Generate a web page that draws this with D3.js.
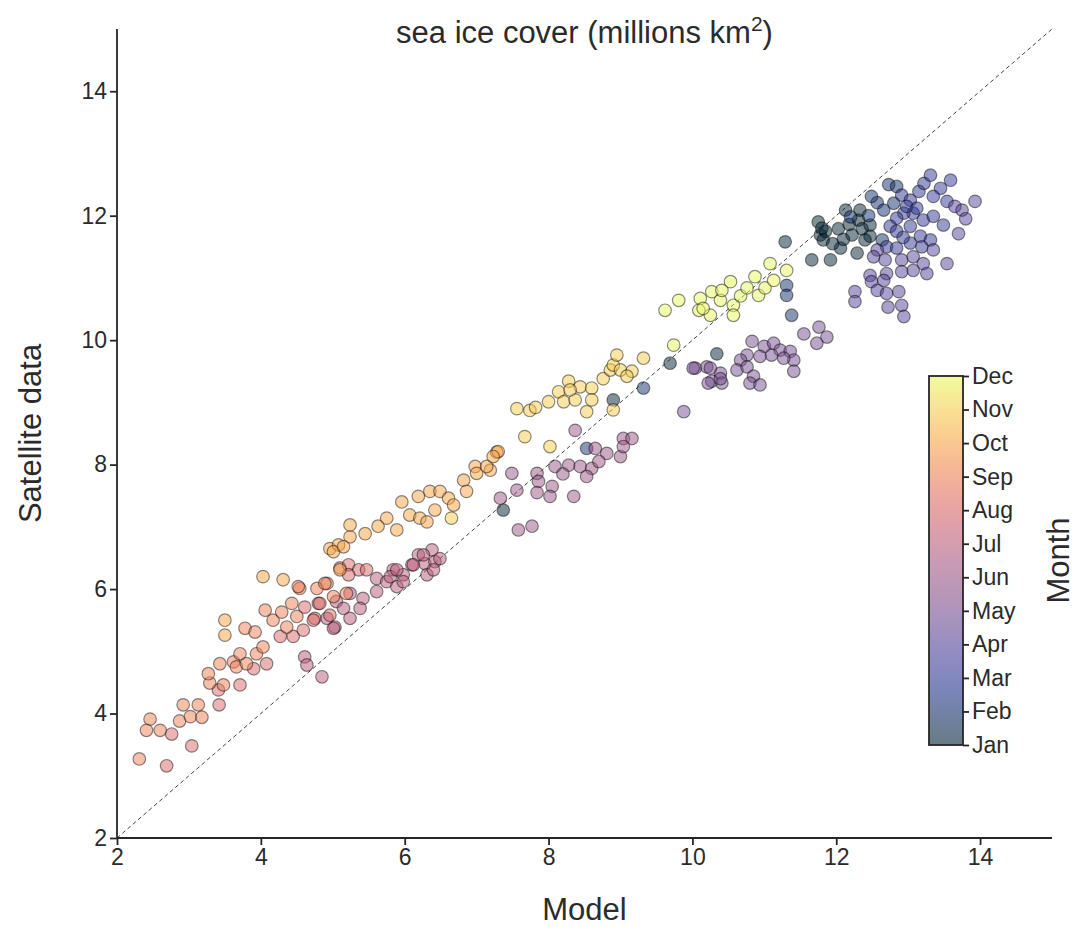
<!DOCTYPE html>
<html>
<head>
<meta charset="utf-8">
<script src="https://cdn.jsdelivr.net/npm/d3@7"></script>
<style>
  body { margin: 0; background: #fff; }
  text { font-family: "Liberation Sans", Arial, sans-serif; fill: #2b2b2b; }
</style>
</head>
<body>
<div id="chart"></div>
<script>
// month labels for the colorbar
var monthNames = ["Jan","Feb","Mar","Apr","May","Jun","Jul","Aug","Sep","Oct","Nov","Dec"];
var xTicks = [2, 4, 6, 8, 10, 12, 14];
var yTicks = [2, 4, 6, 8, 10, 12, 14];

// [model, satellite] per month
var jan = [[7.37,7.27],[8.90,9.04],[9.69,9.63],[10.34,9.78],[11.29,11.58],
  [11.75,11.90],[11.78,11.69],[11.82,11.61],[11.66,11.29],[11.92,11.29],[12.03,11.79],
  [12.06,11.48],[12.13,12.09],[12.22,11.69],[12.31,11.93],[12.33,12.09],[12.36,11.79],
  [12.47,11.85],[12.29,11.40],[12.47,11.67],[12.40,11.61],[11.85,11.75],[11.95,11.55],
  [11.80,11.80],[12.18,11.86],[12.10,11.62]];
var feb = [[8.53,8.26],[9.32,9.23],[11.31,10.88],[11.31,10.72],[11.38,10.40],[12.57,12.21],
  [12.73,12.50],[12.84,12.47],[12.49,12.31],[12.66,12.09],[12.64,11.61],[12.80,12.20],
  [12.20,11.98],[12.45,12.00]];
var mar = [[12.91,12.33],[13.03,12.25],[13.15,12.39],[13.22,12.52],[13.31,12.65],[13.45,12.44],
  [13.35,12.31],[13.54,12.23],[13.07,12.04],[12.94,12.04],[12.84,11.96],[12.75,11.83],
  [13.03,11.83],[13.21,11.93],[13.35,11.99],[13.49,11.85],[12.84,11.75],[13.17,11.67],
  [13.31,11.61],[12.70,11.50],[12.84,11.48],[13.03,11.56],[13.19,11.50],[13.59,12.57],
  [12.98,12.15],[13.12,12.12],[12.93,11.65]];
var apr = [[13.65,12.15],[13.75,12.09],[13.93,12.23],[13.70,11.71],[13.35,11.45],[12.57,11.45],
  [12.52,11.34],[12.68,11.29],[12.91,11.29],[13.07,11.34],[13.21,11.23],[13.26,11.07],
  [13.54,11.23],[13.07,11.12],[12.91,11.10],[12.70,11.07],[12.47,11.04],[12.49,10.94],
  [12.66,10.96],[12.57,10.80],[12.70,10.75],[12.87,10.78],[12.91,10.56],[12.94,10.38],
  [12.26,10.78],[12.26,10.62],[12.72,10.53],[13.80,11.95]];
var may = [[11.55,10.10],[11.76,10.21],[11.87,10.05],[11.73,9.95],[10.83,9.98],[11.00,9.90],
  [11.13,9.95],[11.22,9.84],[11.36,9.82],[11.41,9.68],[11.41,9.50],[11.27,9.71],[11.10,9.76],
  [10.94,9.74],[10.76,9.76],[10.67,9.68],[10.62,9.52],[10.76,9.57],[10.85,9.42],[10.80,9.31],
  [10.94,9.28],[10.39,9.47],[10.20,9.57],[10.04,9.55],[10.27,9.34],[10.41,9.31],[9.88,8.85],
  [10.01,9.55],[10.25,9.55],[10.22,9.31],[10.39,9.38]];
var jun = [[8.37,8.55],[8.65,8.26],[8.81,8.18],[9.00,8.13],[9.04,8.42],[9.16,8.42],[9.04,8.29],
  [8.09,7.97],[8.28,7.99],[8.44,7.97],[8.60,7.94],[8.53,7.81],[7.84,7.86],[7.86,7.73],
  [8.05,7.65],[8.02,7.49],[7.84,7.55],[8.35,7.49],[7.49,7.86],[7.56,7.59],[7.33,7.46],
  [7.58,6.95],[7.77,7.01],[8.20,7.85],[8.70,8.05]];
var jul = [[4.61,4.91],[4.64,4.78],[4.85,4.59],[4.92,5.53],[5.03,5.39],[5.61,6.17],[5.75,6.12],
  [5.84,6.31],[5.98,6.23],[6.10,6.39],[6.19,6.55],[6.28,6.41],[6.31,6.23],[5.89,6.04],
  [5.61,5.96],[5.42,5.85],[5.24,5.93],[5.05,5.80],[5.15,5.69],[5.38,5.69],[5.24,5.53],
  [5.01,5.37],[6.38,6.63],[6.42,6.44],[6.49,6.49],[6.40,6.31],[6.26,6.55],[6.12,6.39],
  [5.80,6.20],[5.89,6.31],[5.98,6.12]];
var aug = [[4.96,5.58],[4.75,5.53],[4.80,5.77],[4.61,5.71],[5.10,6.34],[5.22,6.39],[5.36,6.31],
  [5.47,6.31],[5.22,6.23],[4.73,5.50],[4.45,5.24],[4.27,5.24],[4.59,5.34],[4.08,4.80],
  [3.90,4.72],[3.71,4.46],[3.41,4.38],[2.69,3.16],[3.04,3.48],[2.76,3.67],[3.42,4.14],
  [4.82,5.77]];
var sep = [[2.31,3.27],[2.46,3.91],[2.41,3.73],[2.60,3.73],[2.87,3.88],[2.92,4.14],[3.13,4.14],
  [3.02,3.95],[3.18,3.94],[3.29,4.49],[3.27,4.64],[3.48,4.46],[3.43,4.80],[3.62,4.83],
  [3.71,4.96],[3.66,4.75],[3.80,4.80],[3.94,4.96],[4.03,5.07],[3.78,5.37],[3.92,5.31],
  [4.06,5.66],[4.17,5.50],[4.29,5.63],[4.36,5.39],[4.43,5.77],[4.50,5.56],[4.54,6.01],
  [4.52,6.04],[4.78,6.01],[4.92,6.09],[5.01,5.88],[5.19,5.93],[4.89,6.09]];
var oct = [[3.50,5.50],[3.50,5.26],[4.03,6.20],[4.31,6.15],[4.96,6.65],[5.08,6.71],[5.24,6.84],
  [5.24,7.03],[5.45,6.89],[5.63,7.01],[5.75,7.14],[5.89,6.95],[5.96,7.40],[6.07,7.19],
  [6.19,7.49],[6.21,7.14],[6.31,7.08],[6.35,7.57],[6.42,7.27],[6.49,7.57],[6.61,7.46],
  [6.68,7.35],[6.82,7.75],[6.86,7.57],[6.98,7.97],[7.00,7.86],[7.19,7.91],[7.28,8.20],
  [7.14,7.97],[7.30,8.21],[7.23,8.13],[5.10,6.31],[5.01,6.60],[5.15,6.68]];
var nov = [[6.65,7.14],[7.56,8.90],[7.74,8.87],[7.67,8.45],[8.02,8.29],[8.00,9.01],[8.14,9.17],
  [8.21,9.01],[8.28,9.34],[8.37,9.04],[8.44,9.25],[8.53,8.85],[8.60,9.23],[8.60,9.04],
  [8.76,9.38],[8.86,9.52],[8.90,9.60],[8.95,9.76],[9.00,9.52],[9.16,9.50],[9.09,9.42],
  [9.32,9.71],[8.90,8.88],[7.82,8.92],[8.30,9.20]];
var dec = [[9.74,9.92],[9.62,10.48],[9.81,10.64],[10.11,10.67],[10.09,10.48],[10.25,10.40],
  [10.27,10.78],[10.39,10.64],[10.41,10.80],[10.53,10.94],[10.57,10.56],[10.57,10.40],
  [10.67,10.71],[10.76,10.84],[10.87,11.02],[10.92,10.72],[11.01,10.84],[11.08,11.23],
  [11.13,10.96],[11.31,11.12],[10.15,10.51]];

var byMonth = [jan, feb, mar, apr, may, jun, jul, aug, sep, oct, nov, dec];

// cmocean "thermal"-like ramp
var thermalStops = ["#042333","#0f2e68","#2b3595","#4a3f9c","#6b4a90","#8a5288",
                    "#a85883","#c65f73","#e06b62","#f08650","#f9a944","#f6d04d","#e8fa5b"];
var thermal = d3.scaleLinear()
  .domain(thermalStops.map((d, i) => i / (thermalStops.length - 1)))
  .range(thermalStops)
  .interpolate(d3.interpolateRgb);

const drawChart = () => {
  var W = 1075, H = 930;
  var svg = d3.select("#chart").append("svg")
    .attr("width", W)
    .attr("height", H);

  var x = d3.scaleLinear().domain([2, 15]).range([117, 1052]);
  var y = d3.scaleLinear().domain([2, 15]).range([838, 29]);
  var mColor = m => thermal((m - 1) / 11);

  // diagonal 1:1 line
  svg.append("line")
    .attr("x1", x(2)).attr("y1", y(2))
    .attr("x2", x(15)).attr("y2", y(15))
    .attr("stroke", "#444")
    .attr("stroke-width", 1)
    .attr("stroke-dasharray", "4,3");

  var points = [];
  byMonth.forEach((arr, i) => arr.forEach(p => points.push({ x: p[0], y: p[1], m: i + 1 })));

  svg.append("g")
    .selectAll("circle")
    .data(points)
    .enter()
    .append("circle")
    .attr("cx", d => x(d.x))
    .attr("cy", d => y(d.y))
    .attr("r", 6.3)
    .attr("fill", d => mColor(d.m))
    .attr("fill-opacity", 0.5)
    .attr("stroke", "#000")
    .attr("stroke-opacity", 0.45)
    .attr("stroke-width", 1.2);

  // axes
  var xAxis = svg.append("g")
    .attr("transform", "translate(0," + y(2) + ")")
    .call(d3.axisBottom(x).tickValues(xTicks).tickSize(7).tickPadding(4).tickFormat(d3.format("d")));
  var yAxis = svg.append("g")
    .attr("transform", "translate(" + x(2) + ",0)")
    .call(d3.axisLeft(y).tickValues(yTicks).tickSize(7).tickPadding(3).tickFormat(d3.format("d")));
  [xAxis, yAxis].forEach(a => {
    a.select(".domain").attr("stroke", "#262626").attr("stroke-width", 1.8);
    a.selectAll(".tick line").attr("stroke", "#262626").attr("stroke-width", 1.8);
    a.selectAll(".tick text").attr("font-size", 23).attr("fill", "#2b2b2b")
      .style("font-family", "'Liberation Sans', Arial, sans-serif");
  });
  xAxis.select(".domain").attr("d", "M" + x(2) + ",0H" + x(15));
  yAxis.select(".domain").attr("d", "M0," + y(2) + "V" + y(15));

  // labels
  svg.append("text")
    .attr("x", (x(2) + x(15)) / 2).attr("y", 920)
    .attr("text-anchor", "middle").attr("font-size", 31)
    .text("Model");
  svg.append("text")
    .attr("transform", "translate(41," + ((y(2) + y(15)) / 2) + ") rotate(-90)")
    .attr("text-anchor", "middle").attr("font-size", 31)
    .text("Satellite data");

  var title = svg.append("text")
    .attr("x", (x(2) + x(15)) / 2).attr("y", 43)
    .attr("text-anchor", "middle").attr("font-size", 31);
  title.append("tspan").text("sea ice cover (millions km");
  title.append("tspan").attr("dy", -12).attr("font-size", 21).text("2");
  title.append("tspan").attr("dy", 12).text(")");

  // colorbar
  var cbX = 929, cbW = 34;
  var cb = d3.scaleLinear().domain([1, 12]).range([745, 376]);
  var defs = svg.append("defs");
  var grad = defs.append("linearGradient")
    .attr("id", "cbgrad")
    .attr("x1", 0).attr("y1", 1).attr("x2", 0).attr("y2", 0);
  d3.range(0, 1.0001, 0.05).forEach(t => {
    grad.append("stop").attr("offset", t).attr("stop-color", thermal(t));
  });
  svg.append("rect")
    .attr("x", cbX).attr("y", cb(12))
    .attr("width", cbW).attr("height", cb(1) - cb(12))
    .attr("fill", "url(#cbgrad)")
    .attr("fill-opacity", 0.6)
    .attr("stroke", "#262626")
    .attr("stroke-width", 1.8);

  var cbAxis = svg.append("g")
    .attr("transform", "translate(" + (cbX + cbW) + ",0)")
    .call(d3.axisRight(cb).tickValues(d3.range(1, 13)).tickSize(6).tickPadding(3)
      .tickFormat(d => monthNames[d - 1]));
  cbAxis.select(".domain").remove();
  cbAxis.selectAll(".tick line").attr("stroke", "#262626").attr("stroke-width", 1.8);
  cbAxis.selectAll(".tick text").attr("font-size", 23).attr("fill", "#2b2b2b")
    .style("font-family", "'Liberation Sans', Arial, sans-serif");

  svg.append("text")
    .attr("transform", "translate(1069," + ((cb(1) + cb(12)) / 2) + ") rotate(-90)")
    .attr("text-anchor", "middle").attr("font-size", 31)
    .text("Month");
};

drawChart();
</script>
</body>
</html>
